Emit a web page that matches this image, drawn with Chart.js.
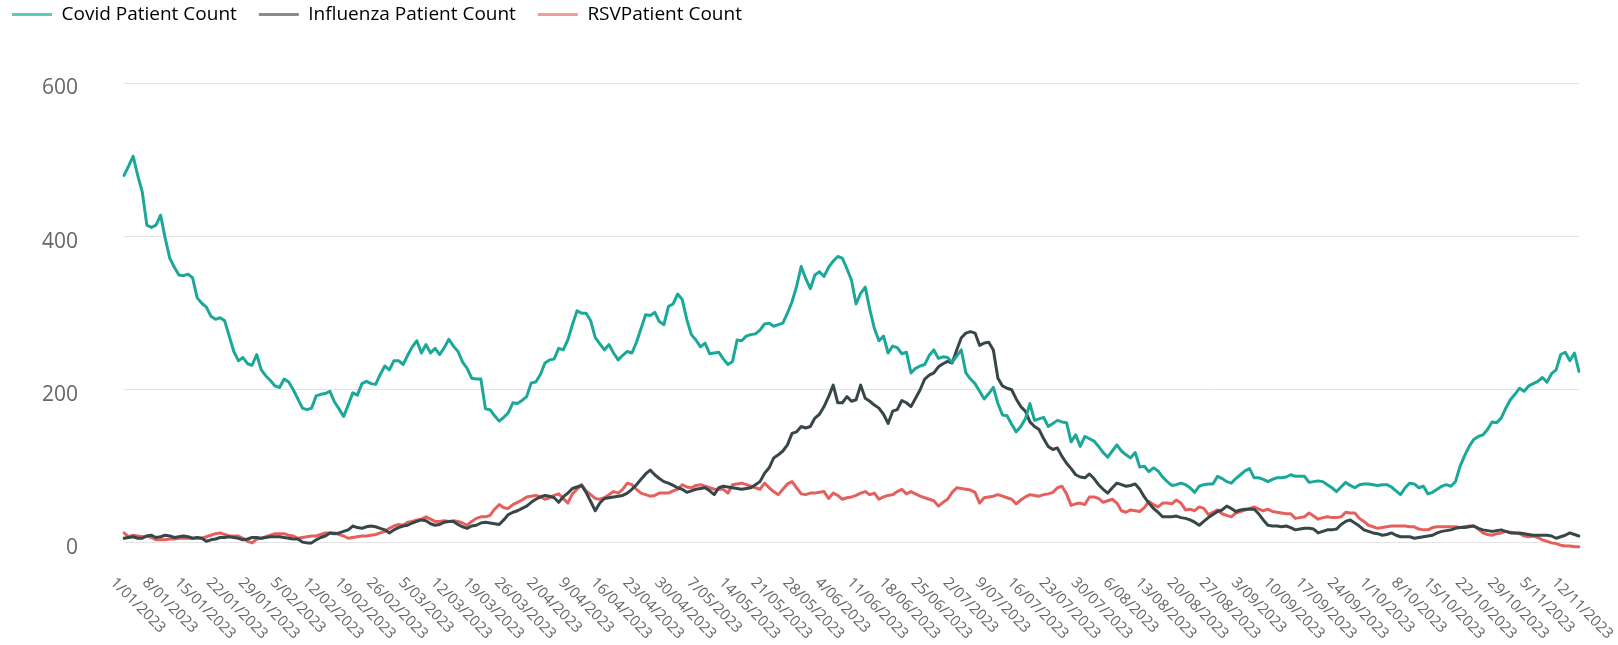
<!DOCTYPE html>
<html><head><meta charset="utf-8">
<script src="https://cdn.jsdelivr.net/npm/chart.js@4.4.1/dist/chart.umd.min.js"></script>
<style>
html,body{margin:0;padding:0;background:#fff;overflow:hidden;}
#wrap{position:relative;width:1618px;height:645px;overflow:hidden;background:#fff;}
#c{position:absolute;left:-10px;top:-17px;}
</style></head><body>
<div id="wrap"><canvas id="c" width="1628" height="662"></canvas></div>
<script>
// ---- categories (daily, 1/01/2023 .. 15/11/2023) ----
const firstDay = [2023, 0, 1];
const dayCount = 319;
const categories = [];
for (let i = 0; i < dayCount; i++) {
  const d = new Date(Date.UTC(firstDay[0], firstDay[1], firstDay[2] + i));
  categories.push(d.getUTCDate() + '/' + String(d.getUTCMonth() + 1).padStart(2, '0') + '/' + d.getUTCFullYear());
}
const tickEvery = 7;
const yTicks = [0, 200, 400, 600];
const seriesNames = ['Covid Patient Count', 'Influenza Patient Count', 'RSVPatient Count'];

const covid = [
480,492,505,480,458,415,412,415,428,398,
372,360,350,349,351,346,320,313,308,296,
292,294,290,270,250,238,242,234,232,246,
226,218,212,205,203,214,210,200,188,176,
174,176,192,194,195,198,184,175,165,180,
196,193,208,211,208,207,220,231,226,238,
238,233,245,256,264,248,259,248,254,246,
255,266,257,250,236,228,215,214,214,175,
174,166,159,164,170,183,182,186,191,209,
210,220,235,239,240,254,252,265,285,303,
300,300,290,268,260,252,259,248,239,245,
250,248,262,280,298,297,301,289,285,309,
312,325,318,292,272,265,256,261,247,248,
249,240,233,237,265,264,270,272,273,278,
286,287,283,285,287,300,315,335,361,345,
332,350,354,348,360,368,374,372,358,343,
312,326,334,305,280,264,270,248,257,255,
247,249,222,228,231,233,245,252,241,243,
242,236,244,252,222,214,208,198,188,195,
203,182,167,166,155,145,152,162,182,160,
162,164,152,156,160,158,157,132,141,126,
139,136,133,126,118,112,120,128,120,115,
111,118,99,100,93,98,94,86,80,75,
76,78,76,72,66,74,76,77,77,87,
84,80,78,84,89,94,97,85,85,83,
80,83,85,85,86,89,87,87,87,79,
80,81,80,76,72,67,73,79,75,72,
76,77,77,76,75,76,76,73,68,63,
72,78,77,72,74,64,66,70,74,76,
74,80,100,114,126,135,139,141,148,158,
157,163,176,187,194,202,198,205,208,211,
216,210,221,226,246,249,238,248,224
];

const influenza = [
6,7,8,6,6,9,10,7,8,10,
9,7,8,9,8,6,7,6,2,4,
5,7,7,8,7,6,4,5,7,7,
6,7,8,8,8,7,6,5,5,1,
0,0,4,7,9,13,12,13,15,17,
22,20,19,21,22,21,19,17,13,17,
20,22,23,26,28,30,29,25,23,24,
27,28,28,24,21,19,22,23,26,27,
26,25,24,30,37,40,42,45,48,53,
57,60,62,61,59,53,60,65,71,73,
75,66,54,42,52,58,59,60,61,62,
65,70,76,83,90,95,89,84,80,78,
75,72,70,66,68,70,71,72,68,63,
72,74,73,72,71,70,71,72,76,80,
91,98,111,115,120,128,143,145,152,150,
152,163,168,178,191,206,183,183,191,185,
187,206,189,185,180,176,168,156,172,174,
186,183,178,189,200,214,219,222,230,234,
237,235,252,268,274,276,274,258,261,262,
252,215,205,202,200,188,178,172,158,152,
148,136,126,122,124,113,104,97,89,86,
85,90,84,76,70,65,72,78,76,74,
75,77,70,60,52,45,40,34,34,34,
35,33,32,30,27,23,28,33,37,41,
43,48,45,41,43,44,44,44,38,30,
23,22,22,21,22,20,17,18,19,19,
18,13,15,17,17,18,24,28,30,26,
22,17,15,13,12,10,11,13,10,8,
8,8,6,7,8,9,10,13,15,16,
17,19,20,20,21,22,19,17,16,15,
16,17,15,13,13,13,12,11,10,10,
10,10,9,6,8,10,13,11,9
];

const rsv = [
13,8,10,9,8,9,7,4,4,4,
5,5,6,6,6,6,6,6,8,10,
12,13,11,9,9,9,6,2,0,5,
6,8,10,12,12,12,10,9,6,7,
8,9,9,11,13,13,13,11,9,6,
7,8,9,9,10,11,13,15,19,22,
24,23,27,28,30,31,34,31,28,28,
29,28,29,28,26,23,28,32,34,34,
36,44,50,46,45,50,53,56,60,61,
62,60,57,59,62,64,58,52,64,70,
76,68,63,58,57,59,63,67,65,70,
78,76,70,65,63,61,62,65,65,65,
68,70,76,73,72,75,76,74,72,70,
70,70,65,76,77,78,76,74,72,70,
78,72,67,63,70,77,80,72,64,63,
65,65,66,67,58,65,62,57,59,60,
62,65,67,63,65,57,60,62,63,67,
70,64,67,64,61,59,57,55,48,53,
57,66,72,71,70,69,66,52,59,60,
61,63,61,59,57,51,56,60,63,62,
61,63,64,66,72,74,64,49,51,52,
50,60,60,58,53,55,57,52,42,40,
43,42,41,46,54,50,47,52,52,51,
56,52,43,44,42,47,45,37,40,43,
38,36,34,39,41,43,45,47,44,42,
44,41,40,39,38,38,32,33,34,39,
35,31,33,34,33,33,34,40,39,39,
32,28,23,21,19,20,21,22,22,22,
22,21,21,18,17,17,20,21,21,21,
21,21,20,21,22,22,18,13,11,10,
12,13,15,14,13,12,9,8,9,7,
4,2,0,-1,-3,-4,-4,-5,-5
];

// ---- styles ----
const FONT = "'Segoe UI', 'Open Sans', sans-serif";
const lineColors = ['#1BA899', '#374649', '#E5605D'];
const legendColors = ['#5DC9BE', '#858D8F', '#F59C9A'];
const legendBlockHeight = 100.5;

// keep the legend block tall so the plot starts where the reference's does
const legendSizePlugin = {
  id: 'legendSize',
  beforeUpdate(chart) {
    const lg = chart.legend;
    if (lg && !lg._patched) {
      const origFit = lg.fit;
      lg.fit = function () { origFit.call(this); this.height = legendBlockHeight; };
      lg._patched = true;
    }
  }
};

const xLabelPlugin = {
  id: 'xlabels',
  afterDraw(chart) {
    const ctx = chart.ctx;
    const xs = chart.scales.x;
    ctx.save();
    ctx.font = '15px ' + FONT;
    ctx.fillStyle = '#666666';
    ctx.textAlign = 'left';
    ctx.textBaseline = 'top';
    categories.forEach((lab, i) => {
      if (i % tickEvery) return;
      const px = xs.getPixelForValue(i);
      ctx.save();
      ctx.translate(px - 6, chart.chartArea.bottom + 26);
      ctx.rotate(Math.PI / 4);
      ctx.fillText(lab, 0, 0);
      ctx.restore();
    });
    ctx.restore();
  }
};

new Chart(document.getElementById('c'), {
  type: 'line',
  data: {
    labels: categories,
    datasets: [
      { label: seriesNames[0], data: covid, borderColor: lineColors[0], backgroundColor: legendColors[0] },
      { label: seriesNames[1], data: influenza, borderColor: lineColors[1], backgroundColor: legendColors[1] },
      { label: seriesNames[2], data: rsv, borderColor: lineColors[2], backgroundColor: legendColors[2] }
    ]
  },
  options: {
    responsive: false,
    animation: false,
    layout: { padding: { left: 0, right: 39, top: 0, bottom: 0 } },
    elements: {
      line: { borderWidth: 3, tension: 0, borderJoinStyle: 'round', borderCapStyle: 'round' },
      point: { radius: 0, hoverRadius: 0 }
    },
    plugins: {
      tooltip: { enabled: false },
      legend: {
        position: 'top',
        align: 'start',
        labels: {
          boxWidth: 40,
          boxHeight: 3,
          padding: 22,
          color: '#252423',
          font: { family: FONT, size: 19 },
          generateLabels(chart) {
            return chart.data.datasets.map((ds, i) => ({
              text: ds.label, fillStyle: legendColors[i], strokeStyle: legendColors[i],
              lineWidth: 0, hidden: false, datasetIndex: i
            }));
          }
        }
      }
    },
    scales: {
      x: {
        type: 'category',
        offset: false,
        grid: { display: false },
        border: { display: false },
        ticks: { display: false },
        afterFit(s) { s.height = 96; }
      },
      y: {
        min: -8,
        max: 600,
        grid: { color: '#E3E3E3', lineWidth: 1, drawTicks: false },
        border: { display: false },
        ticks: {
          padding: 46,
          labelOffset: 5,
          color: '#666666',
          font: { family: FONT, size: 21 },
          callback: (v) => String(v)
        },
        afterBuildTicks(s) { s.ticks = yTicks.map(v => ({ value: v })); },
        afterFit(s) { s.width = 134; }
      }
    }
  },
  plugins: [legendSizePlugin, xLabelPlugin]
});
</script>
</body></html>
